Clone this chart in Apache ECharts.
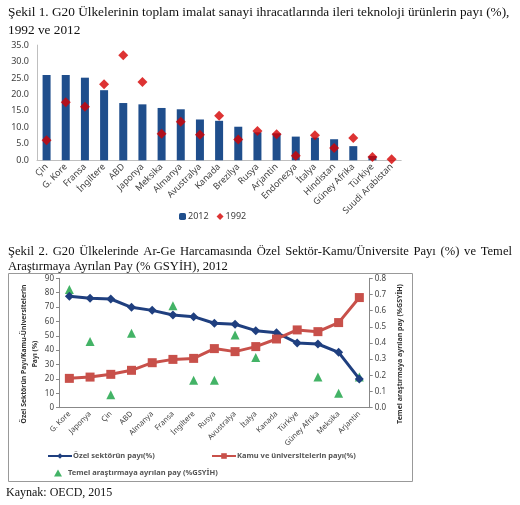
<!DOCTYPE html>
<html>
<head>
<meta charset="utf-8">
<script src="https://cdn.jsdelivr.net/npm/echarts@6/dist/echarts.min.js"></script>
<style>
    html, body { margin: 0; padding: 0; background: #fff; }
    #main { width: 520px; height: 505px; }
</style>
</head>
<body>
<div id="main"></div>
<script>
    // Şekil 1 verileri
    var ulkeler1 = ['Çin', 'G. Kore', 'Fransa', 'İngiltere', 'ABD', 'Japonya', 'Meksika', 'Almanya', 'Avustralya', 'Kanada',
        'Brezilya', 'Rusya', 'Arjantin', 'Endonezya', 'İtalya', 'Hindistan', 'Güney Afrika', 'Türkiye', 'Suudi Arabistan'];
    var pay2012 = [25.9, 25.9, 25.1, 21.3, 17.4, 17.0, 15.9, 15.5, 12.4, 12.0, 10.2, 8.5, 8.2, 7.2, 6.9, 6.4, 4.3, 1.3, 0];
    var pay1992 = [6.1, 17.6, 16.3, 23.1, 31.9, 23.8, 8.1, 11.7, 7.8, 13.5, 6.3, 8.9, 7.9, 1.4, 7.6, 3.7, 6.8, 1.0, 0.3];
    var ticks1 = [0, 5, 10, 15, 20, 25, 30, 35];

    // Şekil 2 verileri
    var ulkeler2 = ['G. Kore', 'Japonya', 'Çin', 'ABD', 'Almanya', 'Fransa', 'İngiltere', 'Rusya', 'Avustralya', 'İtalya',
        'Kanada', 'Türkiye', 'Güney Afrika', 'Meksika', 'Arjantin'];
    var ozelSektor = [77.5, 76.1, 75.6, 69.8, 67.7, 64.5, 63.3, 58.7, 58.0, 53.6, 52.2, 45.0, 44.3, 38.5, 20.0];
    var kamuUniv = [20.4, 21.3, 23.2, 26.0, 31.3, 33.6, 34.3, 41.1, 39.0, 42.5, 47.8, 54.1, 52.9, 59.2, 76.6];
    var temelArastirma = [0.73, 0.41, 0.08, 0.46, null, 0.63, 0.17, 0.17, 0.45, 0.31, null, null, 0.19, 0.09, 0.19];
    var ticksSol = [0, 10, 20, 30, 40, 50, 60, 70, 80, 90];
    var ticksSag = [0, 0.1, 0.2, 0.3, 0.4, 0.5, 0.6, 0.7, 0.8];

    var baslik1 = 'Şekil 1. G20 Ülkelerinin toplam imalat sanayi ihracatlarında ileri teknoloji ürünlerin payı (%),';
    var baslik1b = '1992 ve 2012';
    var baslik2 = 'Şekil 2. G20 Ülkelerinde Ar-Ge Harcamasında Özel Sektör-Kamu/Üniversite Payı (%) ve Temel';
    var baslik2b = 'Araştırmaya Ayrılan Pay (% GSYİH), 2012';

    var serif1 = '13.3px "Liberation Serif"';
    var serif2 = '12.6px "Liberation Serif"';
    var ctx = document.createElement('canvas').getContext('2d');

    // iki yana yaslı satır (kelimeler arasına eşit boşluk)
    function yasla(text, x0, x1, y, font) {
        ctx.font = font;
        var words = text.split(' ');
        var w = words.map(function (s) { return ctx.measureText(s).width; });
        var total = w.reduce(function (a, b) { return a + b; }, 0);
        var gap = Math.max(2, (x1 - x0 - total) / (words.length - 1));
        var x = x0, out = [];
        words.forEach(function (s, i) {
            out.push({ type: 'text', x: x, y: y, style: { text: s, font: font, fill: '#111', verticalAlign: 'middle' } });
            x += w[i] + gap;
        });
        return out;
    }

    function yazi(text, x, y, font) {
        return { type: 'text', x: x, y: y, style: { text: text, font: font, fill: '#111', verticalAlign: 'middle' } };
    }

    var graphics = [
        yazi(baslik1, 8, 13, serif1),
        yazi(baslik1b, 8, 31, serif1)
    ].concat(yasla(baslik2, 8, 512, 252, serif2)).concat([
        yazi(baslik2b, 8, 267, serif2),
        { type: 'rect', shape: { x: 8.5, y: 273.5, width: 404, height: 208 }, style: { fill: 'none', stroke: '#999', lineWidth: 1 } },
        yazi('Kaynak: OECD, 2015', 6, 493, '12px "Liberation Serif"')
    ]);

    var axisGray = { lineStyle: { color: '#bfbfbf' } };
    var legendText = { fontSize: 7.5, fontWeight: 'bold', color: '#555' };

    var myEcharts = echarts.init(document.getElementById('main'));
    myEcharts.setOption({
        animation: false,
        textStyle: { fontFamily: 'Noto Sans' },
        graphic: graphics,
        grid: [
            { left: 37, top: 45.1, width: 364.2, height: 115.2 },
            { left: 59, top: 278.3, width: 310.7, height: 129.4 }
        ],
        legend: [
            {
                data: ['2012', '1992'], left: 174, top: 207, itemWidth: 7, itemHeight: 7, itemGap: 8,
                textStyle: { fontSize: 9, color: '#404040', padding: [0, 0, 0, -3] }
            },
            {
                data: ['Özel sektörün payı(%)'], left: 42, top: 447, itemWidth: 24, itemHeight: 7,
                textStyle: Object.assign({ padding: [0, 0, 0, -4] }, legendText)
            },
            {
                data: ['Kamu ve üniversitelerin payı(%)'], left: 206, top: 447, itemWidth: 24, itemHeight: 7,
                textStyle: Object.assign({ padding: [0, 0, 0, -4] }, legendText)
            },
            {
                data: ['Temel araştırmaya ayrılan pay (%GSYİH)'], left: 49, top: 464, itemWidth: 8, itemHeight: 7,
                textStyle: Object.assign({ padding: [0, 0, 0, 1] }, legendText)
            }
        ],
        xAxis: [
            {
                type: 'category', gridIndex: 0, data: ulkeler1,
                axisLine: axisGray, axisTick: { lineStyle: { color: '#bfbfbf' }, length: 3 },
                axisLabel: { rotate: 45, fontSize: 9, color: '#404040', margin: 5, interval: 0 }
            },
            {
                type: 'category', gridIndex: 1, data: ulkeler2,
                axisLine: { lineStyle: { color: '#888' } }, axisTick: { lineStyle: { color: '#888' }, length: 3 },
                axisLabel: { rotate: 45, fontSize: 7.5, color: '#444', margin: 5, interval: 0 }
            }
        ],
        yAxis: [
            {
                type: 'value', gridIndex: 0, min: ticks1[0], max: ticks1[ticks1.length - 1], interval: 5,
                splitLine: { show: false },
                axisLine: { show: true, lineStyle: { color: '#bfbfbf' } },
                axisTick: { show: false },
                axisLabel: { fontSize: 9, color: '#404040', margin: 8, formatter: function (v) { return v.toFixed(1); } }
            },
            {
                type: 'value', gridIndex: 1, min: ticksSol[0], max: ticksSol[ticksSol.length - 1], interval: 10,
                splitLine: { show: false },
                axisLine: { show: true, lineStyle: { color: '#888' } },
                axisTick: { show: true, lineStyle: { color: '#888' }, length: 3 },
                axisLabel: { fontSize: 8, color: '#444', margin: 5 },
                name: 'Özel Sektörün Payı/Kamu-Üniversitelerin\nPayı (%)',
                nameLocation: 'middle', nameGap: 18, nameMoveOverlap: false,
                nameTextStyle: { fontSize: 6.8, fontWeight: 'bold', color: '#333', lineHeight: 11, padding: [0, 22, 0, 0] }
            },
            {
                type: 'value', gridIndex: 1, position: 'right', min: ticksSag[0], max: ticksSag[ticksSag.length - 1], interval: 0.1,
                splitLine: { show: false },
                axisLine: { show: true, lineStyle: { color: '#888' } },
                axisTick: { show: true, lineStyle: { color: '#888' }, length: 3 },
                axisLabel: { fontSize: 8, color: '#444', margin: 5, formatter: function (v) { return v.toFixed(1); } },
                name: 'Temel araştırmaya ayrılan pay (%GSYİH)',
                nameLocation: 'middle', nameGap: 27, nameRotate: 90, nameMoveOverlap: false,
                nameTextStyle: { fontSize: 7, fontWeight: 'bold', color: '#333', padding: [0, 22, 0, 0] }
            }
        ],
        series: [
            {
                name: '2012', type: 'bar', xAxisIndex: 0, yAxisIndex: 0, data: pay2012,
                barWidth: 8, itemStyle: { color: '#1f4e8c' }
            },
            {
                name: '1992', type: 'scatter', xAxisIndex: 0, yAxisIndex: 0, data: pay1992,
                symbol: 'diamond', symbolSize: 10, itemStyle: { color: '#d40000' }
            },
            {
                name: 'Özel sektörün payı(%)', type: 'line', xAxisIndex: 1, yAxisIndex: 1, data: ozelSektor,
                symbol: 'diamond', symbolSize: 9, showAllSymbol: true,
                lineStyle: { width: 3, color: '#1f3f7f' }, itemStyle: { color: '#1f3f7f' }
            },
            {
                name: 'Kamu ve üniversitelerin payı(%)', type: 'line', xAxisIndex: 1, yAxisIndex: 1, data: kamuUniv,
                symbol: 'rect', symbolSize: 9, showAllSymbol: true,
                lineStyle: { width: 3, color: '#c8504a' }, itemStyle: { color: '#c8504a' }
            },
            {
                name: 'Temel araştırmaya ayrılan pay (%GSYİH)', type: 'scatter', xAxisIndex: 1, yAxisIndex: 2, data: temelArastirma,
                symbol: 'triangle', symbolSize: 9, itemStyle: { color: '#14a040' }
            }
        ]
    });
</script>
</body>
</html>
